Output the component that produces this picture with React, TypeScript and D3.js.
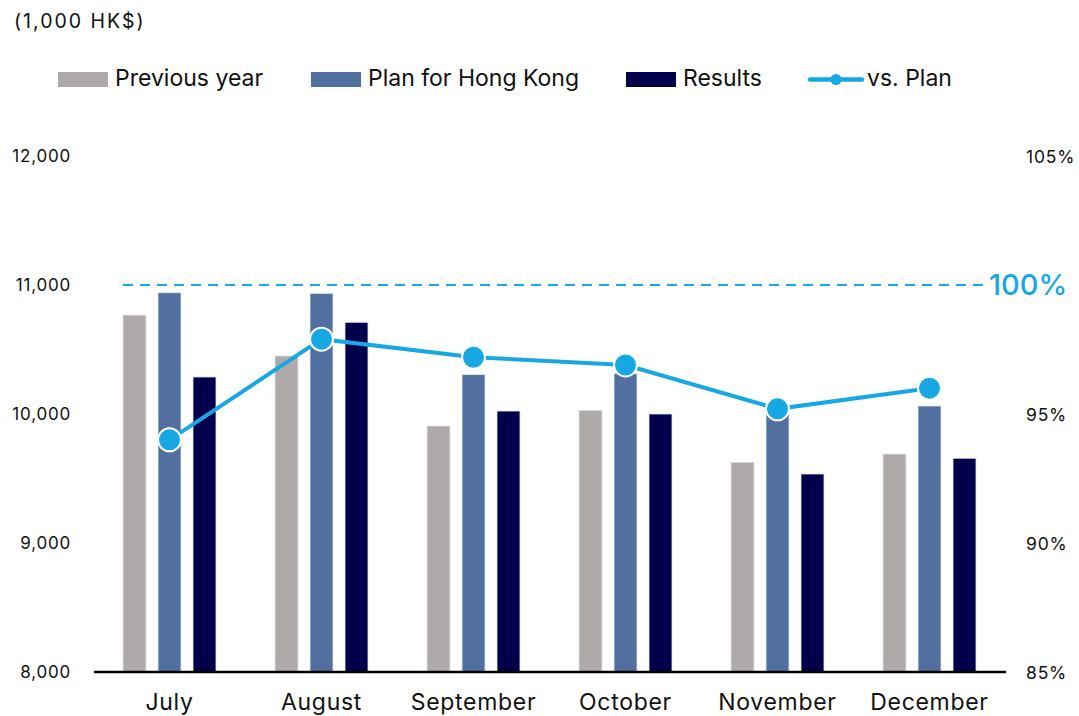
import React from "react";
import * as d3 from "d3";

const months = ["July", "August", "September", "October", "November", "December"];
const previousYear = [10767, 10450, 9907, 10029, 9626, 9690];
const planHK = [10940, 10935, 10305, 10312, 10000, 10062];
const results = [10287, 10711, 10023, 10000, 9535, 9657];
const vsPlan = [94.0, 97.9, 97.2, 96.9, 95.2, 96.0];
const leftTicks = [8000, 9000, 10000, 11000, 12000];
const rightTicks = [85, 90, 95, 105];

const W = 1079;
const H = 716;
const FONT = "Inter, 'Open Sans', sans-serif";
const C_PREV = "#aeaaa9";
const C_PLAN = "#51709f";
const C_RES = "#02004a";
const C_LINE = "#17a8e3";

export default function App() {
  const x = d3.scaleBand<string>().domain(months).range([93.5, 1005.5]).padding(0);
  const yL = d3.scaleLinear().domain([8000, 12000]).range([672, 156]);
  const yR = d3.scaleLinear().domain([85, 105]).range([672, 156]);
  const barW = 23;
  const offs = [-35, 0, 35];
  const series = [
    { vals: previousYear, color: C_PREV },
    { vals: planHK, color: C_PLAN },
    { vals: results, color: C_RES },
  ];
  const cx = (m: string) => (x(m) as number) + x.bandwidth() / 2;
  const line = d3
    .line<number>()
    .x((_, i) => cx(months[i]))
    .y((d) => yR(d));

  const legendItems = [
    { label: "Previous year", color: C_PREV, x: 58 },
    { label: "Plan for Hong Kong", color: C_PLAN, x: 311 },
    { label: "Results", color: C_RES, x: 626 },
  ];

  return (
    <svg width={W} height={H} style={{ position: "absolute", left: 0, top: 0 }} fontFamily={FONT}>
      <rect width={W} height={H} fill="#fff" />
      <text x={14} y={27.5} fontSize={19.5} letterSpacing={2} fill="#111">(1,000 HK$)</text>

      {legendItems.map((l) => (
        <g key={l.label}>
          <rect x={l.x} y={72} width={50} height={15} fill={l.color} />
          <text x={l.x + 57} y={86} fontSize={23} fill="#111">{l.label}</text>
        </g>
      ))}
      <g>
        <line x1={810} x2={862} y1={79.5} y2={79.5} stroke={C_LINE} strokeWidth={4.5} strokeLinecap="round" />
        <circle cx={836} cy={79.5} r={5.5} fill={C_LINE} />
        <text x={867} y={86} fontSize={23} fill="#111">vs. Plan</text>
      </g>

      {leftTicks.map((t) => (
        <text key={t} x={71} y={yL(t) + 6} fontSize={17} letterSpacing={0.8} textAnchor="end" fill="#111">
          {d3.format(",")(t)}
        </text>
      ))}
      {rightTicks.map((t) => (
        <text key={t} x={1026} y={yR(t) + 6.5} fontSize={17.5} letterSpacing={0.8} fill="#111">
          {t}%
        </text>
      ))}

      {series.map((s, si) =>
        s.vals.map((v, i) => (
          <rect
            key={si + "-" + i}
            x={cx(months[i]) + offs[si] - barW / 2}
            y={yL(v)}
            width={barW}
            height={yL(8000) - yL(v)}
            fill={s.color}
            stroke="#e4e6ee"
            strokeWidth={0.8}
          />
        ))
      )}

      <line x1={94} x2={1006} y1={672} y2={672} stroke="#000" strokeWidth={2.5} />

      <line x1={123} x2={985} y1={yR(100)} y2={yR(100)} stroke={C_LINE} strokeWidth={2} strokeDasharray="10,7" />
      <text x={989} y={yR(100) + 10} fontSize={29} fontWeight={500} fill={C_LINE}>100%</text>

      <path d={line(vsPlan) || ""} fill="none" stroke={C_LINE} strokeWidth={4} />
      {vsPlan.map((v, i) => (
        <circle key={i} cx={cx(months[i])} cy={yR(v)} r={11.5} fill={C_LINE} stroke="#fff" strokeWidth={2} />
      ))}

      {months.map((m) => (
        <text key={m} x={cx(m)} y={710} fontSize={23} letterSpacing={0.7} textAnchor="middle" fill="#111">
          {m}
        </text>
      ))}
    </svg>
  );
}
